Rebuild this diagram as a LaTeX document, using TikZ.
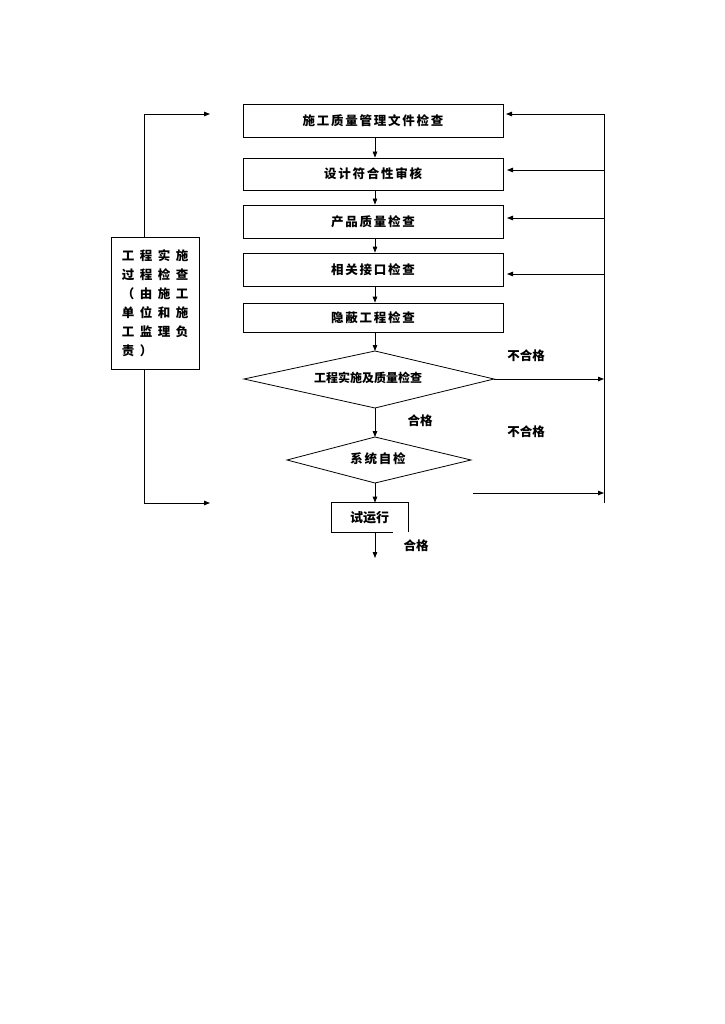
\documentclass[tikz,border=0pt]{standalone}
\usepackage{fontspec}
\setmainfont{Noto Sans CJK SC}
\newfontfamily\cjkbox[LetterSpace=14]{Noto Sans CJK SC}
\newfontfamily\cjkwide[LetterSpace=44]{Noto Sans CJK SC}
\usetikzlibrary{arrows.meta,calc}
\begin{document}
\begin{tikzpicture}[x=1pt,y=-1pt,line width=0.8pt,
  arr/.style={-{Triangle[length=6pt,width=4.5pt]}},
  stepbox/.style={draw,minimum width=260pt,minimum height=33pt,inner sep=0pt,font=\cjkbox\fontsize{12.5}{14}\selectfont\bfseries},
  lbl/.style={font=\fontsize{12.5}{14}\selectfont\bfseries,inner sep=1pt}]
\useasboundingbox (0,0) rectangle (724,1024);
% main boxes
\node[stepbox] (b1) at (373,120.5) {施工质量管理文件检查};
\node[stepbox,minimum height=32pt] (b2) at (373,174) {设计符合性审核};
\node[stepbox] (b3) at (373,221.5) {产品质量检查};
\node[stepbox] (b4) at (373,269.5) {相关接口检查};
\node[stepbox,minimum height=29pt] (b5) at (373,317.5) {隐蔽工程检查};
% diamond 1
\coordinate (d1l) at (244,379);
\coordinate (d1r) at (494,379);
\coordinate (d1t) at (375,351);
\coordinate (d1b) at (375,408);
\draw (d1l) -- (d1t) -- (d1r) -- (d1b) -- cycle;
\node[font=\fontsize{12}{14}\selectfont\bfseries] (d1) at (368,378) {工程实施及质量检查};
% diamond 2
\coordinate (d2l) at (287,460);
\coordinate (d2r) at (471,460);
\coordinate (d2t) at (375,437);
\coordinate (d2b) at (375,483);
\draw (d2l) -- (d2t) -- (d2r) -- (d2b) -- cycle;
\node[font=\cjkbox\fontsize{12.5}{14}\selectfont\bfseries] (d2) at (378,459) {系统自检};
% trial box
\node[minimum width=76pt,minimum height=29pt,inner sep=0pt,font=\fontsize{13}{14}\selectfont\bfseries] (t) at (369.5,517.5) {试运行};
\draw (t.south east) -- (t.north east) -- (t.north west) -- (t.south west) -- ([xshift=-15pt]t.south east);
\coordinate (tend) at (375,558);
% left box
\node[draw,minimum width=88pt,minimum height=132pt,inner sep=0pt,align=left,
  font=\cjkwide\fontsize{12.5}{19}\selectfont\bfseries] (lb) at (155,303) {工程实施\\过程检查\\（由施工\\单位和施\\工监理负\\责）\hspace*{18pt}};
% connectors between boxes
\draw[arr] (b1.south -| 375,0) -- (b2.north -| 375,0);
\draw[arr] (b2.south -| 375,0) -- (b3.north -| 375,0);
\draw[arr] (b3.south -| 375,0) -- (b4.north -| 375,0);
\draw[arr] (b4.south -| 375,0) -- (b5.north -| 375,0);
\draw[arr] (b5.south -| 375,0) -- (d1t);
\draw[arr] (d1b) -- (d2t);
\draw[arr] (d2b) -- (t.north -| 375,0);
\draw[arr] (t.south -| 375,0) -- (tend);
% left loop
\coordinate (lt) at (210,114);
\coordinate (lbt) at (210,503);
\draw[arr] (lb.north -| 144,0) |- (lt);
\draw[arr] (lb.south -| 144,0) |- (lbt);
% right loop
\coordinate (rt) at (604,114);
\coordinate (rb) at (604,503);
\draw (rt) -- (rb);
\draw[arr] (rt) -- (506,114);
\coordinate (r2) at (604,170);
\coordinate (r3) at (604,218);
\coordinate (r4) at (604,274);
\draw[arr] (r2) -- (507,170);
\draw[arr] (r3) -- (507,218);
\draw[arr] (r4) -- (507,274);
\draw[arr] (d1r) -- (604,379);
\coordinate (s2) at (473,493);
\draw[arr] (s2) -- (604,493);
% labels
\node[lbl] (n1) at (526,356) {不合格};
\node[lbl] (p1) at (420,421) {合格};
\node[lbl] (n2) at (526,432) {不合格};
\node[lbl] (p2) at (416,546) {合格};
\end{tikzpicture}
\end{document}
